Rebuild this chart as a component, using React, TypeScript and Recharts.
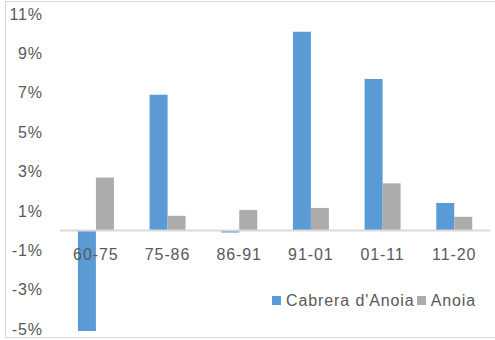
import { Bar, BarChart, ReferenceLine, XAxis, YAxis } from 'recharts'

const periods = ['60-75', '75-86', '86-91', '91-01', '01-11', '11-20']
const cabreraValues = [-5.1, 6.9, -0.1, 10.1, 7.7, 1.4]
const anoiaValues = [2.7, 0.75, 1.05, 1.15, 2.4, 0.7]
const yTicks = [-5, -3, -1, 1, 3, 5, 7, 9, 11]

const data = periods.map((name, i) => ({
  name,
  cabrera: cabreraValues[i],
  anoia: anoiaValues[i],
}))

const W = 495
const H = 340
const X_AXIS_H = 1
const MARGIN = { top: 14, right: 5, bottom: 8, left: 0 }
const Y_MIN = -5
const Y_MAX = 11
const BLUE = '#5B9BD5'
const GREY = '#AEABAB'
const TEXT = '#595959'
const FONT = '"Liberation Sans", Arial, sans-serif'
const SPACING = '0.9px'

const plotHeight = H - MARGIN.top - MARGIN.bottom - X_AXIS_H
// x labels sit just under the zero line, not at the bottom of the plot
const zeroOffset = ((0 - Y_MIN) / (Y_MAX - Y_MIN)) * plotHeight

function PeriodTick(props: any) {
  const { x, y, payload } = props
  return (
    <text
      x={x}
      y={y - zeroOffset + 20}
      textAnchor="middle"
      fill={TEXT}
      fontSize={16}
      fontFamily={FONT}
      letterSpacing={SPACING}
    >
      {payload.value}
    </text>
  )
}

function LegendBox() {
  const item = (color: string, label: string) => (
    <span style={{ display: 'inline-flex', alignItems: 'center', marginRight: 2 }}>
      <span style={{ width: 9, height: 9, background: color, marginRight: 5 }} />
      <span>{label}</span>
    </span>
  )
  return (
    <div
      style={{
        position: 'absolute',
        left: 272,
        top: 290,
        fontSize: 16,
        lineHeight: '20px',
        color: TEXT,
        fontFamily: FONT,
        letterSpacing: SPACING,
        whiteSpace: 'nowrap',
      }}
    >
      {item(BLUE, 'Cabrera d\'Anoia')}
      {item(GREY, 'Anoia')}
    </div>
  )
}

export default function App() {
  return (
    <div style={{ position: 'absolute', left: 0, top: 0, width: W, height: H, background: '#fff' }}>
      <div
        style={{
          position: 'absolute',
          left: 5,
          top: 1,
          width: W,
          height: H - 3,
          border: '1px solid #D9D9D9',
          boxSizing: 'border-box',
        }}
      />
      <BarChart
        width={W}
        height={H}
        data={data}
        margin={MARGIN}
        barCategoryGap="25%"
        barGap={0}
        style={{ position: 'absolute', left: 0, top: 0 }}
      >
        <XAxis
          dataKey="name"
          axisLine={false}
          tickLine={false}
          interval={0}
          tick={<PeriodTick />}
          height={X_AXIS_H}
        />
        <YAxis
          domain={[Y_MIN, Y_MAX]}
          ticks={yTicks}
          interval={0}
          width={60}
          axisLine={false}
          tickLine={false}
          tickSize={0}
          tickMargin={17}
          tickFormatter={(v: number) => `${v}%`}
          tick={{ fontSize: 16, fill: TEXT, fontFamily: FONT, letterSpacing: SPACING }}
        />
        <ReferenceLine y={0} stroke="#D9D9D9" strokeWidth={2} />
        <Bar dataKey="cabrera" name="Cabrera d'Anoia" fill={BLUE} isAnimationActive={false} />
        <Bar dataKey="anoia" name="Anoia" fill={GREY} isAnimationActive={false} />
      </BarChart>
      <LegendBox />
    </div>
  )
}
